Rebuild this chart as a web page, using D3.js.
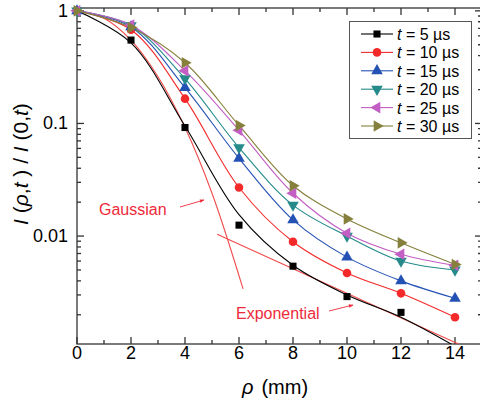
<!DOCTYPE html>
<html>
<head>
<meta charset="utf-8">
<script src="https://cdn.jsdelivr.net/npm/d3@7"></script>
<style>
  body { margin: 0; background: #fff; }
  svg text { font-family: "Liberation Sans", Arial, sans-serif; }
</style>
</head>
<body>
<div id="chart"></div>
<script>
// distances (mm)
var rho = [0, 2, 4, 6, 8, 10, 12, 14];
var labels = ["5", "10", "15", "20", "25", "30"];
// normalized intensity I(rho,t)/I(0,t)
var t5  = [1, 0.55, 0.092, 0.0125, 0.0054, 0.0029, 0.0021];
var t10 = [1, 0.68, 0.166, 0.027, 0.0089, 0.0047, 0.0031, 0.0019];
var t15 = [1, 0.72, 0.208, 0.049, 0.0139, 0.0065, 0.0040, 0.0028];
var t20 = [1, 0.74, 0.25, 0.061, 0.0188, 0.0100, 0.0060, 0.0050];
var t25 = [1, 0.75, 0.294, 0.087, 0.024, 0.0106, 0.0069, 0.0055];
var t30 = [1, 0.71, 0.346, 0.096, 0.028, 0.0142, 0.0087, 0.0056];
// fitted black curve (it runs past the last point, out of the frame)
var t5FitRho = [0, 2, 4, 6, 8, 10, 12, 14];
var t5FitVal = [1, 0.52, 0.095, 0.0155, 0.0055, 0.0030, 0.0019, 0.00105];
// guide curves
var gaussRho = [0, 1, 2, 3, 4, 5, 6.15];
var gaussVal = [1, 0.86, 0.55, 0.26, 0.092, 0.024, 0.0034];
var expRho = [5.19, 14.2];
var expVal = [0.0104, 0.00108];

var colors = ["#000000", "#f42a2a", "#2452b4", "#248a8a", "#c25ec4", "#85803c"];
var series = [t5, t10, t15, t20, t25, t30];

var W = 480, H = 405;
var svg = d3.select("#chart").append("svg")
  .attr("width", W).attr("height", H);

var x = d3.scaleLinear().domain([0, 15]).range([77, 482]);
var y = d3.scaleLog().domain([0.0011, 1.06]).range([344, 8]);

var axisColor = "#333";

// clip for curves
svg.append("clipPath").attr("id", "plotClip")
  .append("rect").attr("x", x(0)).attr("y", y(1.06))
  .attr("width", x(15) - x(0)).attr("height", y(0.0011) - y(1.06));

// ---- axes (ticks inward, mirrored on top/right)
function tickLines(g, list, len, isX, side) {
  list.forEach(function(v){
    if (isX) {
      var px = x(v);
      var y0 = side === "bottom" ? y(0.0011) : y(1.06);
      var dir = side === "bottom" ? -1 : 1;
      g.append("line").attr("x1", px).attr("x2", px)
        .attr("y1", y0).attr("y2", y0 + dir * len);
    } else {
      var py = y(v);
      var x0 = side === "left" ? x(0) : x(15);
      var d = side === "left" ? 1 : -1;
      g.append("line").attr("y1", py).attr("y2", py)
        .attr("x1", x0).attr("x2", x0 + d * len);
    }
  });
}

var ax = svg.append("g").attr("stroke", axisColor).attr("stroke-width", 1.3);
var majX = [0, 2, 4, 6, 8, 10, 12, 14];
var minX = [1, 3, 5, 7, 9, 11, 13, 15];
var majY = [0.01, 0.1, 1];
var minY = [];
[0.001, 0.01, 0.1].forEach(function(d){
  for (var k = 2; k <= 9; k++) {
    var v = d * k;
    if (v > 0.0011 && v < 1.06) minY.push(v);
  }
});
tickLines(ax, majX, 7, true, "bottom");
tickLines(ax, minX, 4, true, "bottom");
tickLines(ax, majX, 7, true, "top");
tickLines(ax, minX, 4, true, "top");
tickLines(ax, majY, 7, false, "left");
tickLines(ax, minY, 4, false, "left");
tickLines(ax, majY, 7, false, "right");
tickLines(ax, minY, 4, false, "right");

ax.append("rect").attr("x", x(0)).attr("y", y(1.06))
  .attr("width", x(15) - x(0)).attr("height", y(0.0011) - y(1.06))
  .attr("fill", "none");

// tick labels
svg.selectAll(".xl").data(majX).enter().append("text")
  .attr("x", function(d){ return x(d); })
  .attr("y", 359)
  .attr("text-anchor", "middle")
  .style("font-size", "18px")
  .text(function(d){ return d; });

svg.selectAll(".yl").data(majY).enter().append("text")
  .attr("x", 68)
  .attr("y", function(d){ return y(d) + 6; })
  .attr("text-anchor", "end")
  .style("font-size", "18px")
  .text(function(d){ return d; });

// axis titles
var xt = svg.append("text").attr("x", 275).attr("y", 394)
  .attr("text-anchor", "middle").style("font-size", "20px");
xt.append("tspan").style("font-style", "italic").text("\u03c1");
xt.append("tspan").attr("dx", 8).text("(mm)");

var yt = svg.append("text")
  .attr("transform", "translate(28,164) rotate(-90)")
  .attr("text-anchor", "middle").style("font-size", "21px");
yt.append("tspan").style("font-style", "italic").text("I");
yt.append("tspan").text(" (");
yt.append("tspan").style("font-style", "italic").text("\u03c1");
yt.append("tspan").text(",");
yt.append("tspan").style("font-style", "italic").text("t");
yt.append("tspan").text(" ) / ");
yt.append("tspan").style("font-style", "italic").text("I");
yt.append("tspan").text(" (0,");
yt.append("tspan").style("font-style", "italic").text("t");
yt.append("tspan").text(")");

// ---- curves
var plot = svg.append("g").attr("clip-path", "url(#plotClip)");
var line = d3.line()
  .x(function(d){ return x(d[0]); })
  .y(function(d){ return y(d[1]); })
  .curve(d3.curveCatmullRom.alpha(0.5));

// guide lines
var gaussPts = gaussRho.map(function(r, i){ return [r, gaussVal[i]]; });
plot.append("path").attr("d", line(gaussPts))
  .attr("fill", "none").attr("stroke", "#f24a4a").attr("stroke-width", 1.1);
var expPts = expRho.map(function(r, i){ return [r, expVal[i]]; });
plot.append("path").attr("d", d3.line()
    .x(function(d){ return x(d[0]); }).y(function(d){ return y(d[1]); })(expPts))
  .attr("fill", "none").attr("stroke", "#f24a4a").attr("stroke-width", 1.1);

series.forEach(function(vals, i){
  var pts = vals.map(function(v, j){ return [rho[j], v]; });
  if (i === 0) pts = t5FitRho.map(function(r, j){ return [r, t5FitVal[j]]; });
  plot.append("path").attr("d", line(pts))
    .attr("fill", "none").attr("stroke", colors[i]).attr("stroke-width", 1.1);
});

// ---- markers
function symbolFor(i) {
  if (i === 0) return d3.symbol().type(d3.symbolSquare).size(50);
  if (i === 1) return d3.symbol().type(d3.symbolCircle).size(58);
  return d3.symbol().type(d3.symbolTriangle).size(58);
}
var rot = [0, 0, 0, 180, -90, 90];

series.forEach(function(vals, i){
  svg.append("g").selectAll("path").data(vals).enter().append("path")
    .attr("d", symbolFor(i)())
    .attr("transform", function(v, j){
      return "translate(" + x(rho[j]) + "," + y(v) + ") rotate(" + rot[i] + ")";
    })
    .attr("fill", colors[i]);
});

// ---- annotations
var red = "#ee2a3a";
svg.append("defs").append("marker").attr("id", "arr")
  .attr("viewBox", "0 0 10 10").attr("refX", 9).attr("refY", 5)
  .attr("markerWidth", 7).attr("markerHeight", 5).attr("orient", "auto")
  .append("path").attr("d", "M0,1 L10,5 L0,9 Z").attr("fill", red);

svg.append("text").attr("x", 99).attr("y", 215)
  .style("font-size", "16px").attr("fill", red).text("Gaussian");
svg.append("line").attr("x1", 180).attr("y1", 207).attr("x2", 204).attr("y2", 200)
  .attr("stroke", red).attr("stroke-width", 0.9).attr("marker-end", "url(#arr)");

svg.append("text").attr("x", 236).attr("y", 319)
  .style("font-size", "16px").attr("fill", red).text("Exponential");
svg.append("line").attr("x1", 329).attr("y1", 311).attr("x2", 353).attr("y2", 305)
  .attr("stroke", red).attr("stroke-width", 0.9).attr("marker-end", "url(#arr)");

// ---- legend
var lg = svg.append("g");
lg.append("rect").attr("x", 349.5).attr("y", 21.5).attr("width", 122).attr("height", 117)
  .attr("fill", "#fff").attr("stroke", "#555").attr("stroke-width", 1);
labels.forEach(function(lab, i){
  var cy = 34 + i * 18.4;
  lg.append("line").attr("x1", 361).attr("x2", 393).attr("y1", cy).attr("y2", cy)
    .attr("stroke", colors[i]).attr("stroke-width", 1.1);
  lg.append("path").attr("d", symbolFor(i)())
    .attr("transform", "translate(377," + cy + ") rotate(" + rot[i] + ")")
    .attr("fill", colors[i]);
  var tx = lg.append("text").attr("x", 397).attr("y", cy + 6)
    .style("font-size", "16px");
  tx.append("tspan").style("font-style", "italic").text("t");
  tx.append("tspan").text(" = " + lab + " \u00b5s");
});
</script>
</body>
</html>
